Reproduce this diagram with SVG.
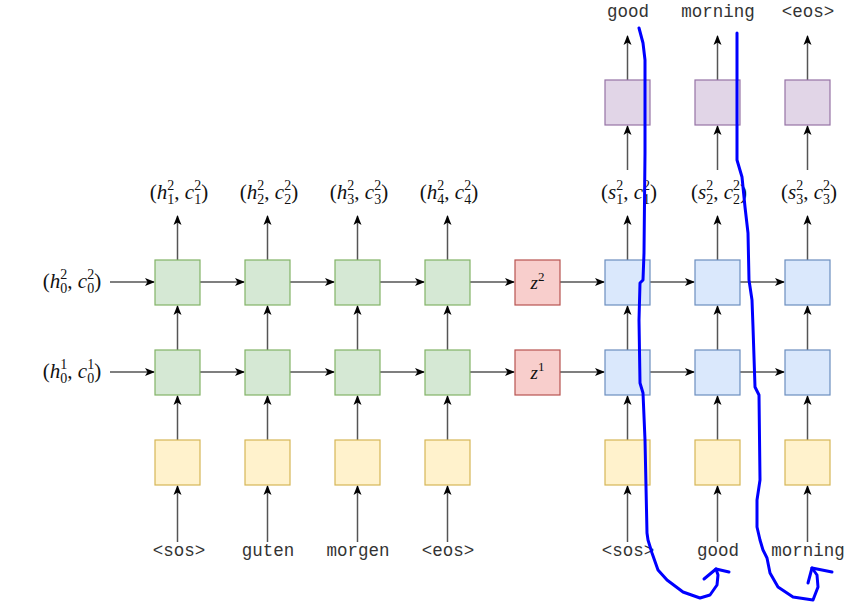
<svg xmlns="http://www.w3.org/2000/svg" width="860" height="604" viewBox="0 0 860 604">
<defs>
<marker id="ah" viewBox="0 0 10 10" refX="9" refY="5" markerWidth="10" markerHeight="10" markerUnits="userSpaceOnUse" orient="auto">
<path d="M0,1 L10,5 L0,9 L2.5,5 Z" fill="#000"/>
</marker>
</defs>
<style>
.g{fill:#d5e8d4;stroke:#82b366;stroke-width:1.2}
.y{fill:#fff2cc;stroke:#d6b656;stroke-width:1.2}
.r{fill:#f8cecc;stroke:#b85450;stroke-width:1.2}
.b{fill:#dae8fc;stroke:#6c8ebf;stroke-width:1.2}
.p{fill:#e1d5e7;stroke:#9673a6;stroke-width:1.2}
.e{stroke:#555;stroke-width:1.5;fill:none;marker-end:url(#ah)}
.m{font-family:"Liberation Serif",serif;font-size:21px;fill:#111}
.i{font-style:italic}
.s{font-size:14px}
.t{font-family:"Liberation Mono",monospace;font-size:17.5px;fill:#333;text-anchor:middle}
.hd{stroke:#0000ff;stroke-width:3;fill:none;stroke-linejoin:round;stroke-linecap:round}
</style>
<g id="connectors">
<path class="e" d="M177.5,542V486"/><path class="e" d="M267.5,542V486"/><path class="e" d="M357.5,542V486"/><path class="e" d="M447.5,542V486"/>
<path class="e" d="M627.5,542V486"/><path class="e" d="M717.5,542V486"/><path class="e" d="M807.5,542V486"/>
<path class="e" d="M177.5,440V396"/><path class="e" d="M267.5,440V396"/><path class="e" d="M357.5,440V396"/><path class="e" d="M447.5,440V396"/>
<path class="e" d="M627.5,440V396"/><path class="e" d="M717.5,440V396"/><path class="e" d="M807.5,440V396"/>
<path class="e" d="M177.5,350V306"/><path class="e" d="M267.5,350V306"/><path class="e" d="M357.5,350V306"/><path class="e" d="M447.5,350V306"/>
<path class="e" d="M627.5,350V306"/><path class="e" d="M717.5,350V306"/><path class="e" d="M807.5,350V306"/>
<path class="e" d="M177.5,260V216"/><path class="e" d="M267.5,260V216"/><path class="e" d="M357.5,260V216"/><path class="e" d="M447.5,260V216"/>
<path class="e" d="M627.5,260V216"/><path class="e" d="M717.5,260V216"/><path class="e" d="M807.5,260V216"/>
<path class="e" d="M627.5,170V126"/><path class="e" d="M717.5,170V126"/><path class="e" d="M807.5,170V126"/>
<path class="e" d="M627.5,80V36"/><path class="e" d="M717.5,80V36"/><path class="e" d="M807.5,80V36"/>
<path class="e" d="M110,282H154"/><path class="e" d="M200,282H244"/><path class="e" d="M290,282H334"/><path class="e" d="M380,282H424"/><path class="e" d="M470,282H514"/><path class="e" d="M560,282H604"/><path class="e" d="M650,282H694"/><path class="e" d="M740,282H784"/>
<path class="e" d="M110,372H154"/><path class="e" d="M200,372H244"/><path class="e" d="M290,372H334"/><path class="e" d="M380,372H424"/><path class="e" d="M470,372H514"/><path class="e" d="M560,372H604"/><path class="e" d="M650,372H694"/><path class="e" d="M740,372H784"/>
</g>
<g id="enc-emb-1"><rect class="y" x="155" y="440" width="45" height="45"/></g>
<g id="enc-emb-2"><rect class="y" x="245" y="440" width="45" height="45"/></g>
<g id="enc-emb-3"><rect class="y" x="335" y="440" width="45" height="45"/></g>
<g id="enc-emb-4"><rect class="y" x="425" y="440" width="45" height="45"/></g>
<g id="dec-emb-1"><rect class="y" x="605" y="440" width="45" height="45"/></g>
<g id="dec-emb-2"><rect class="y" x="695" y="440" width="45" height="45"/></g>
<g id="dec-emb-3"><rect class="y" x="785" y="440" width="45" height="45"/></g>
<g id="enc-l1-1"><rect class="g" x="155" y="350" width="45" height="45"/></g>
<g id="enc-l1-2"><rect class="g" x="245" y="350" width="45" height="45"/></g>
<g id="enc-l1-3"><rect class="g" x="335" y="350" width="45" height="45"/></g>
<g id="enc-l1-4"><rect class="g" x="425" y="350" width="45" height="45"/></g>
<g id="enc-l2-1"><rect class="g" x="155" y="260" width="45" height="45"/></g>
<g id="enc-l2-2"><rect class="g" x="245" y="260" width="45" height="45"/></g>
<g id="enc-l2-3"><rect class="g" x="335" y="260" width="45" height="45"/></g>
<g id="enc-l2-4"><rect class="g" x="425" y="260" width="45" height="45"/></g>
<g id="z2"><rect class="r" x="515" y="260" width="45" height="45"/><text class="m" x="537.5" y="289" text-anchor="middle" style="font-size:19px"><tspan class="i">z</tspan><tspan style="font-size:13px" dy="-8">2</tspan></text></g>
<g id="z1"><rect class="r" x="515" y="350" width="45" height="45"/><text class="m" x="537.5" y="379" text-anchor="middle" style="font-size:19px"><tspan class="i">z</tspan><tspan style="font-size:13px" dy="-8">1</tspan></text></g>
<g id="dec-l1-1"><rect class="b" x="605" y="350" width="45" height="45"/></g>
<g id="dec-l1-2"><rect class="b" x="695" y="350" width="45" height="45"/></g>
<g id="dec-l1-3"><rect class="b" x="785" y="350" width="45" height="45"/></g>
<g id="dec-l2-1"><rect class="b" x="605" y="260" width="45" height="45"/></g>
<g id="dec-l2-2"><rect class="b" x="695" y="260" width="45" height="45"/></g>
<g id="dec-l2-3"><rect class="b" x="785" y="260" width="45" height="45"/></g>
<g id="out-1"><rect class="p" x="605" y="80" width="45" height="45"/></g>
<g id="out-2"><rect class="p" x="695" y="80" width="45" height="45"/></g>
<g id="out-3"><rect class="p" x="785" y="80" width="45" height="45"/></g>
<g id="labels-in">
<text class="t" x="179" y="556">&lt;sos&gt;</text>
<text class="t" x="268" y="556">guten</text>
<text class="t" x="358" y="556">morgen</text>
<text class="t" x="448" y="556">&lt;eos&gt;</text>
<text class="t" x="628" y="556">&lt;sos&gt;</text>
<text class="t" x="718" y="556">good</text>
<text class="t" x="808" y="556">morning</text>
</g>
<g id="labels-out">
<text class="t" x="628" y="17">good</text>
<text class="t" x="718" y="17">morning</text>
<text class="t" x="808" y="17">&lt;eos&gt;</text>
</g>
<g id="labels-state">
<text class="m" x="72" y="288" text-anchor="middle">(<tspan class="i">h</tspan><tspan class="s" dy="5">0</tspan><tspan class="s" dx="-7" dy="-14">2</tspan><tspan dy="9">, </tspan><tspan class="i">c</tspan><tspan class="s" dy="5">0</tspan><tspan class="s" dx="-7" dy="-14">2</tspan><tspan dy="9">)</tspan></text>
<text class="m" x="72" y="378" text-anchor="middle">(<tspan class="i">h</tspan><tspan class="s" dy="5">0</tspan><tspan class="s" dx="-7" dy="-14">1</tspan><tspan dy="9">, </tspan><tspan class="i">c</tspan><tspan class="s" dy="5">0</tspan><tspan class="s" dx="-7" dy="-14">1</tspan><tspan dy="9">)</tspan></text>
<text class="m" x="179" y="199" text-anchor="middle">(<tspan class="i">h</tspan><tspan class="s" dy="5">1</tspan><tspan class="s" dx="-7" dy="-14">2</tspan><tspan dy="9">, </tspan><tspan class="i">c</tspan><tspan class="s" dy="5">1</tspan><tspan class="s" dx="-7" dy="-14">2</tspan><tspan dy="9">)</tspan></text>
<text class="m" x="269" y="199" text-anchor="middle">(<tspan class="i">h</tspan><tspan class="s" dy="5">2</tspan><tspan class="s" dx="-7" dy="-14">2</tspan><tspan dy="9">, </tspan><tspan class="i">c</tspan><tspan class="s" dy="5">2</tspan><tspan class="s" dx="-7" dy="-14">2</tspan><tspan dy="9">)</tspan></text>
<text class="m" x="359" y="199" text-anchor="middle">(<tspan class="i">h</tspan><tspan class="s" dy="5">3</tspan><tspan class="s" dx="-7" dy="-14">2</tspan><tspan dy="9">, </tspan><tspan class="i">c</tspan><tspan class="s" dy="5">3</tspan><tspan class="s" dx="-7" dy="-14">2</tspan><tspan dy="9">)</tspan></text>
<text class="m" x="449" y="199" text-anchor="middle">(<tspan class="i">h</tspan><tspan class="s" dy="5">4</tspan><tspan class="s" dx="-7" dy="-14">2</tspan><tspan dy="9">, </tspan><tspan class="i">c</tspan><tspan class="s" dy="5">4</tspan><tspan class="s" dx="-7" dy="-14">2</tspan><tspan dy="9">)</tspan></text>
<text class="m" x="629" y="199" text-anchor="middle">(<tspan class="i">s</tspan><tspan class="s" dy="5">1</tspan><tspan class="s" dx="-7" dy="-14">2</tspan><tspan dy="9">, </tspan><tspan class="i">c</tspan><tspan class="s" dy="5">1</tspan><tspan class="s" dx="-7" dy="-14">2</tspan><tspan dy="9">)</tspan></text>
<text class="m" x="719" y="199" text-anchor="middle">(<tspan class="i">s</tspan><tspan class="s" dy="5">2</tspan><tspan class="s" dx="-7" dy="-14">2</tspan><tspan dy="9">, </tspan><tspan class="i">c</tspan><tspan class="s" dy="5">2</tspan><tspan class="s" dx="-7" dy="-14">2</tspan><tspan dy="9">)</tspan></text>
<text class="m" x="809" y="199" text-anchor="middle">(<tspan class="i">s</tspan><tspan class="s" dy="5">3</tspan><tspan class="s" dx="-7" dy="-14">2</tspan><tspan dy="9">, </tspan><tspan class="i">c</tspan><tspan class="s" dy="5">3</tspan><tspan class="s" dx="-7" dy="-14">2</tspan><tspan dy="9">)</tspan></text>
</g>
<g id="handdrawn">
<path class="hd" d="M639,28 L643,43 L645,60 L645,153 L644,253 L643,280 L640,283 L639,320 L640,383 L643,393 L645,440 L647,533 L648,540 L652,553 L658,570 L667,580 L683,592 L700,598 L710,595 L717,585 L718,575 L716,569"/>
<path class="hd" d="M704,579 L716,569 L729,572"/>
<path class="hd" d="M737,33 L737,160 L742,177 L745,207 L748,233 L749,280 L752,300 L753,327 L755,387 L759,395 L760,480 L757,500 L757,527 L760,540 L763,550 L767,558 L770,573 L778,587 L793,597 L813,600 L818,587 L817,575 L812,568"/>
<path class="hd" d="M808,583 L812,568 L832,572"/>
</g>
</svg>
